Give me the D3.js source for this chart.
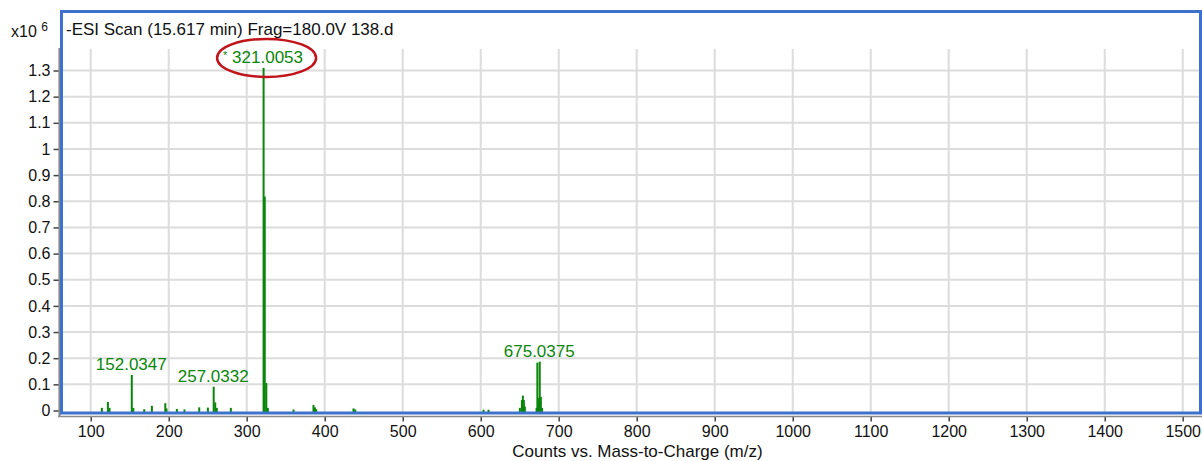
<!DOCTYPE html>
<html>
<head>
<meta charset="utf-8">
<script src="https://cdn.jsdelivr.net/npm/d3@7"></script>
<style>
  html, body { margin: 0; padding: 0; background: #fff; }
  svg { display: block; font-family: "Liberation Sans", Arial, sans-serif; }
</style>
</head>
<body>
<svg id="chart" width="1202" height="461"></svg>
<script>
// Centroided peaks of the scan: m/z and abundance (counts x 10^6)
const peakMz = [
  113.7, 121.4, 123.5, 152.0347, 154.0, 168.0, 177.8, 195.0, 196.5, 209.8,
  219.6, 238.5, 249.6, 257.0332, 259.0, 261.0, 279.0, 321.0053, 322.5, 324.5,
  326.5, 359.4, 385.0, 386.8, 388.5, 436.3, 438.5, 603.0, 609.4, 649.6,
  652.2, 653.4, 654.7, 656.0, 671.0, 672.0, 673.5, 675.0375, 676.5, 678.0
];
const peakCounts = [
  0.010, 0.033, 0.010, 0.136, 0.010, 0.005, 0.018, 0.028, 0.008, 0.006,
  0.004, 0.012, 0.011, 0.091, 0.031, 0.010, 0.010, 1.310, 0.818, 0.105,
  0.010, 0.004, 0.021, 0.012, 0.005, 0.008, 0.004, 0.003, 0.003, 0.010,
  0.040, 0.057, 0.040, 0.015, 0.010, 0.183, 0.048, 0.187, 0.052, 0.010
];

// Annotated peaks
const labelMz = [152.0347, 257.0332, 321.0053, 675.0375];
const labelText = ["152.0347", "257.0332", "321.0053", "675.0375"];
const labelStarred = [false, false, true, false];

// Axis ticks
const xTicks = [100, 200, 300, 400, 500, 600, 700, 800, 900, 1000, 1100, 1200, 1300, 1400, 1500];
const yTicks = [0, 0.1, 0.2, 0.3, 0.4, 0.5, 0.6, 0.7, 0.8, 0.9, 1, 1.1, 1.2, 1.3];
const yTickLabels = ["0", "0.1", "0.2", "0.3", "0.4", "0.5", "0.6", "0.7", "0.8", "0.9", "1", "1.1", "1.2", "1.3"];

const titleText = "-ESI Scan (15.617 min) Frag=180.0V 138.d";
const xTitle = "Counts vs. Mass-to-Charge (m/z)";

const svg = d3.select("#chart");
const plot = { left: 62, right: 1200, top: 49, bottom: 410.5 };

// 100 -> 90.7px, 1500 -> 1182.7px
const x = d3.scaleLinear().domain([100, 1500]).range([90.7, 1182.7]);
const y = d3.scaleLinear().domain([0, 1.3]).range([410.5, 70.5]);

const green = "#0a860a";
const font = "Liberation Sans, Arial, sans-serif";

// grid
const grid = svg.append("g");
grid.selectAll("line.v").data(xTicks).join("line")
  .attr("x1", d => x(d)).attr("x2", d => x(d))
  .attr("y1", plot.top).attr("y2", plot.bottom + 2)
  .attr("stroke", "#dcdcdc").attr("stroke-width", 2);
grid.selectAll("line.h").data(yTicks.filter(d => d > 0)).join("line")
  .attr("x1", plot.left).attr("x2", plot.right)
  .attr("y1", d => y(d)).attr("y2", d => y(d))
  .attr("stroke", "#dcdcdc").attr("stroke-width", 2);

// y axis
const yAxis = d3.axisLeft(y).tickValues(yTicks)
  .tickFormat((d, i) => yTickLabels[i]).tickSize(6).tickPadding(3);
const gy = svg.append("g").attr("transform", "translate(59.5,0)").call(yAxis);
gy.select(".domain").remove();
gy.selectAll(".tick line").attr("stroke", "#444").attr("stroke-width", 1.5);
gy.selectAll(".tick text").attr("font-size", 16).attr("fill", "#111").attr("font-family", font);
svg.append("line").attr("x1", 59.5).attr("x2", 59.5).attr("y1", 48).attr("y2", 417)
  .attr("stroke", "#8a8a8a").attr("stroke-width", 2.2);

// x axis
const xAxis = d3.axisBottom(x).tickValues(xTicks).tickFormat(d3.format("d"))
  .tickSize(5).tickPadding(4);
const gx = svg.append("g").attr("transform", "translate(0,416.5)").call(xAxis);
gx.select(".domain").remove();
gx.selectAll(".tick line").attr("stroke", "#444").attr("stroke-width", 1.5);
gx.selectAll(".tick text").attr("font-size", 16).attr("fill", "#111").attr("font-family", font);
svg.append("line").attr("x1", 58).attr("x2", 1202).attr("y1", 416.5).attr("y2", 416.5)
  .attr("stroke", "#8a8a8a").attr("stroke-width", 1.5);

// peaks
const peaks = peakMz.map((m, i) => ({ m, v: peakCounts[i] }));
svg.append("g").selectAll("rect").data(peaks).join("rect")
  .attr("x", d => x(d.m) - 0.5)
  .attr("width", 2)
  .attr("y", d => y(d.v))
  .attr("height", d => y(0) - y(d.v) + 1.5)
  .attr("fill", green);

// peak labels
const labels = labelMz.map((m, i) => {
  const idx = peakMz.indexOf(m);
  return { m, v: peakCounts[idx], text: labelText[i], star: labelStarred[i] };
});
const lg = svg.append("g").attr("fill", green).attr("font-family", font);
labels.forEach(d => {
  const t = lg.append("text").attr("x", x(d.m)).attr("y", y(d.v) - 5)
    .attr("text-anchor", "middle").attr("font-size", 17);
  if (d.star) {
    t.append("tspan").attr("font-size", 11).attr("dy", -4).text("*");
    t.append("tspan").attr("dy", 4).text("\u00a0" + d.text);
  } else {
    t.text(d.text);
  }
});

// highlight ring around the base peak label
const base = labels.find(d => d.star);
svg.append("ellipse")
  .attr("cx", x(base.m) + 3.5).attr("cy", y(base.v) - 10)
  .attr("rx", 49.5).attr("ry", 19)
  .attr("fill", "none").attr("stroke", "#c0151b").attr("stroke-width", 2.5);

// panel frame
svg.append("rect").attr("x", 61.5).attr("y", 11.5)
  .attr("width", 1200.5 - 61.5).attr("height", 413 - 11.5)
  .attr("fill", "none").attr("stroke", "#3d72cc").attr("stroke-width", 3);

// title and scale factor
svg.append("text").attr("x", 66).attr("y", 35).attr("font-size", 17).attr("fill", "#111")
  .attr("font-family", font).text(titleText);
const sf = svg.append("text").attr("x", 11).attr("y", 37).attr("font-size", 16)
  .attr("fill", "#111").attr("font-family", font);
sf.append("tspan").text("x10 ");
sf.append("tspan").attr("dy", -6).attr("font-size", 12).text("6");

// x axis title
svg.append("text").attr("x", 637.5).attr("y", 456.5).attr("text-anchor", "middle")
  .attr("font-size", 17).attr("fill", "#111").attr("font-family", font).text(xTitle);
</script>
</body>
</html>
